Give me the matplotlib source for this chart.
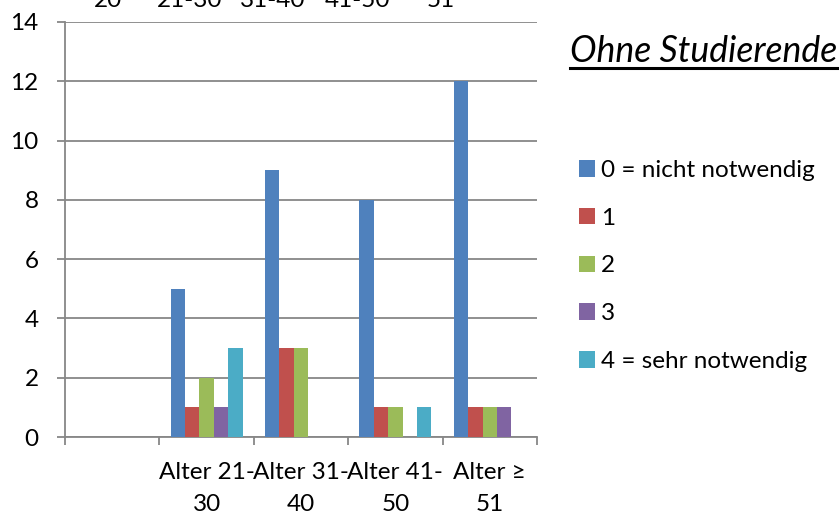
import matplotlib
matplotlib.use("Agg")
import matplotlib.pyplot as plt
from matplotlib.lines import Line2D
import numpy as np

# Age groups and response counts per rating level
categories = ["Alter ≤ 20", "Alter 21-30", "Alter 31-40", "Alter 41-50", "Alter ≥ 51"]
tick_labels = ["", "Alter 21-\n30", "Alter 31-\n40", "Alter 41-\n50", "Alter ≥\n51"]
series_names = ["0 = nicht notwendig", "1", "2", "3", "4 = sehr notwendig"]
values_0 = [0, 5, 9, 8, 12]
values_1 = [0, 1, 3, 1, 1]
values_2 = [0, 2, 3, 1, 1]
values_3 = [0, 1, 0, 0, 1]
values_4 = [0, 3, 0, 1, 0]
# Bottom line of the axis labels of the chart placed above this one
upper_labels = ["20", "21-30", "31-40", "41-50", "51"]

colors = ["#4F81BD", "#C0504D", "#9BBB59", "#8064A2", "#4BACC6"]
font = "Lato"
fs = 17.5
grid_color = "#878787"

W, H = 840, 515
fig = plt.figure(figsize=(W / 100, H / 100), dpi=100)
plt.rcParams["font.family"] = [font, "DejaVu Sans"]

ax_l, ax_r, ax_t, ax_b = 65, 537, 22, 437
ax = fig.add_axes([ax_l / W, 1 - ax_b / H, (ax_r - ax_l) / W, (ax_b - ax_t) / H])

x = np.arange(len(categories))
bw = 0.1525
all_series = [values_0, values_1, values_2, values_3, values_4]
handles = []
for i, (vals, c, name) in enumerate(zip(all_series, colors, series_names)):
    offs = (i - 2) * bw
    b = ax.bar(x + offs, vals, width=bw, color=c, label=name, zorder=3,
               edgecolor="none")
    handles.append(b)

ax.set_xlim(-0.5, len(categories) - 0.5)
ax.set_ylim(0, 14)
ax.set_yticks(np.arange(0, 15, 2))
ax.yaxis.grid(True, color=grid_color, linewidth=1.3, zorder=0)
ax.set_axisbelow(True)

for s in ["top", "right"]:
    ax.spines[s].set_visible(False)
for s in ["left", "bottom"]:
    ax.spines[s].set_color(grid_color)
    ax.spines[s].set_linewidth(1.3)

ax.tick_params(axis="y", length=6, width=1.3, color=grid_color, pad=13,
               labelsize=fs, labelcolor="black")
ax.set_xticks(x)
ax.set_xticklabels(tick_labels, fontsize=fs, linespacing=1.62)
ax.tick_params(axis="x", which="major", length=0, pad=18)
ax.set_xticks(np.arange(-0.5, len(categories), 1.0), minor=True)
ax.tick_params(axis="x", which="minor", length=6, width=1.3, color=grid_color,
               direction="out")

# Legend on the right
leg = fig.legend(handles=handles, labels=series_names, loc="upper left",
                 bbox_to_anchor=(579 / W, 1 - 160 / H), frameon=False,
                 fontsize=fs, handlelength=0.66, handleheight=0.66,
                 handletextpad=0.25, labelspacing=1.1, borderpad=0,
                 borderaxespad=0)

# Title, italic and underlined
title = fig.text(570 / W, 1 - 62 / H, "Ohne Studierende", fontsize=25.7,
                 style="italic", ha="left", va="baseline")
fig.canvas.draw()
bb = title.get_window_extent(renderer=fig.canvas.get_renderer())
fig.add_artist(Line2D([bb.x0 / W, bb.x1 / W], [1 - 68 / H, 1 - 68 / H],
                      transform=fig.transFigure, color="black", linewidth=2.2))

# Cut-off labels at the very top edge
for lbl, xc in zip(upper_labels, [108, 190, 273, 357, 441]):
    fig.text(xc / W, 1 - 7 / H, lbl, fontsize=fs, ha="center", va="baseline")

fig.savefig("out.png", dpi=100)
